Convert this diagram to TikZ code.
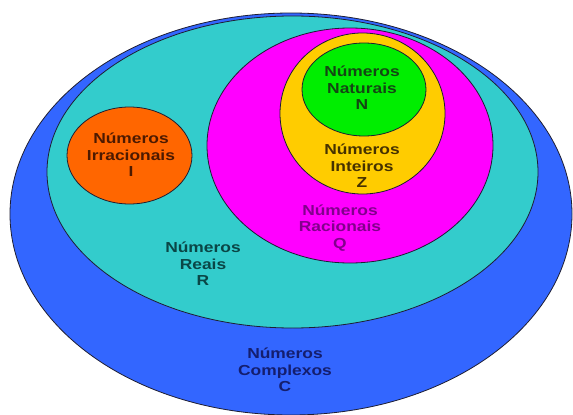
\documentclass[tikz,border=0pt]{standalone}
\usepackage{fontspec}
\setmainfont{Liberation Sans}[BoldFont={Liberation Sans Bold}]
\definecolor{cblue}{RGB}{51,102,255}
\definecolor{cteal}{RGB}{51,204,204}
\definecolor{cmag}{RGB}{255,0,255}
\definecolor{cyel}{RGB}{255,204,0}
\definecolor{cgreen}{RGB}{0,238,0}
\definecolor{corange}{RGB}{255,102,0}
\definecolor{tirr}{RGB}{77,26,0}
\definecolor{tnat}{RGB}{20,70,20}
\definecolor{tint}{RGB}{70,50,0}
\definecolor{trac}{RGB}{130,0,140}
\definecolor{trea}{RGB}{10,70,70}
\definecolor{tcom}{RGB}{20,30,110}
\definecolor{edge}{RGB}{30,30,50}
\tikzset{
  setshape/.style={draw=edge, line width=0.8pt},
  lbl/.style={align=center, font=\bfseries\fontsize{14.5}{16.5}\selectfont, inner sep=0pt, xscale=1.2, transform shape}
}
\begin{document}
\begin{tikzpicture}[x=1pt,y=-1pt]
\useasboundingbox (0,0) rectangle (573,415);
\fill[white] (0,0) rectangle (573,415);
\filldraw[setshape, fill=cblue] (291,214) ellipse [x radius=281, y radius=201];
\filldraw[setshape, fill=cteal] (292.5,172) ellipse [x radius=245.5, y radius=156];
\filldraw[setshape, fill=corange] (129.5,155.5) ellipse [x radius=62.5, y radius=48.5];
\filldraw[setshape, fill=cmag] (350,145.5) ellipse [x radius=143, y radius=117.5];
\filldraw[setshape, fill=cyel] (362.5,113.5) ellipse [x radius=82.5, y radius=80.5];
\filldraw[setshape, fill=cgreen] (364,89.5) ellipse [x radius=62, y radius=46.5];
\node[lbl, text=tirr] (irr) at (131,155) {Números\\Irracionais\\I};
\node[lbl, text=tnat] (nat) at (362,88) {Números\\Naturais\\N};
\node[lbl, text=tint] (int) at (362,166) {Números\\Inteiros\\Z};
\node[lbl, text=trac] (rac) at (340,228) {Números\\Racionais\\Q};
\node[lbl, text=trea] (rea) at (203,264) {Números\\Reais\\R};
\node[lbl, text=tcom] (com) at (285,370) {Números\\Complexos\\C};
\end{tikzpicture}
\end{document}
